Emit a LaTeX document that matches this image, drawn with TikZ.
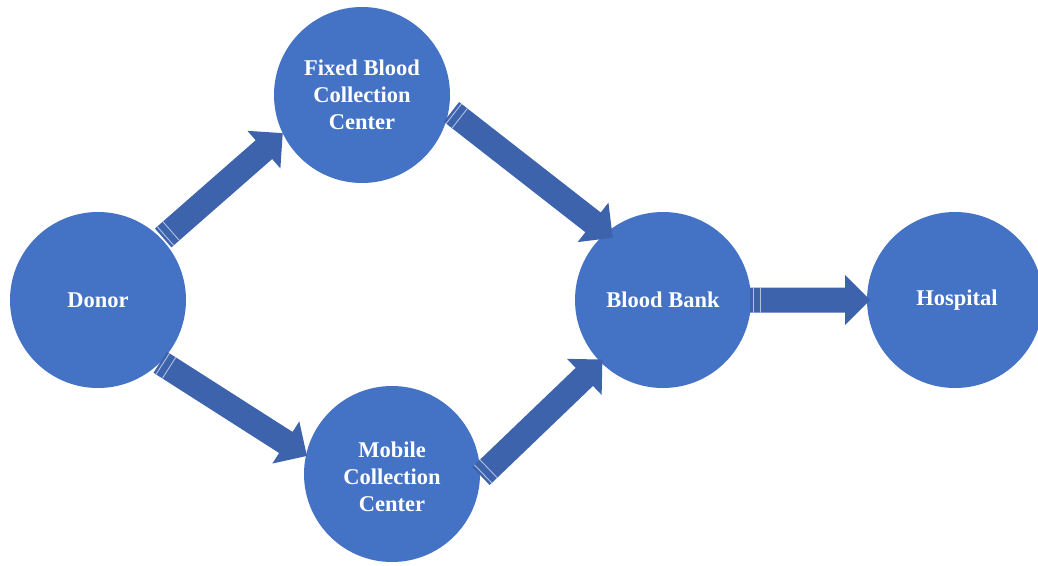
\documentclass[tikz,border=0pt]{standalone}
\usepackage{fontspec}
\setmainfont{Liberation Serif}
\usetikzlibrary{calc}
\definecolor{circfill}{HTML}{4472C4}
\definecolor{arrfill}{HTML}{3D63AD}
\tikzset{
  labeltext/.style={text=white, font=\fontsize{22.5}{27}\selectfont\bfseries, align=center, inner sep=0pt},
  station/.style={circle, fill=circfill, minimum size=176pt, inner sep=0pt, outer sep=0pt, labeltext},
  arrbody/.style={fill=arrfill},
  arrstripe/.style={draw=white!60!arrfill, line width=0.9pt}
}
\newcommand\stripedarrow[2]{%
  \path (#1) coordinate (T) (#2) coordinate (H);
  \path ($(H)!25pt!(T)$) coordinate (B);
  \fill[arrbody] ($(T)!12.5pt!90:(H)$) -- ($(B)!12.5pt!-90:(T)$) -- ($(B)!25pt!-90:(T)$)
     -- (H) -- ($(B)!25pt!90:(T)$) -- ($(B)!12.5pt!90:(T)$) -- ($(T)!12.5pt!-90:(H)$) -- cycle;
  \path ($(T)!3pt!(H)$) coordinate (S1) ($(T)!10.5pt!(H)$) coordinate (S2);
  \draw[arrstripe] ($(S1)!12.5pt!90:(H)$) -- ($(S1)!12.5pt!-90:(H)$);
  \draw[arrstripe] ($(S2)!12.5pt!90:(H)$) -- ($(S2)!12.5pt!-90:(H)$);
}
\begin{document}
\begin{tikzpicture}[x=1pt,y=1pt]
\useasboundingbox (0,0) rectangle (1038,-565);
\clip (0,0) rectangle (1038,-565);
\node[station] (donor) at (98,-300) {Donor};
\node[station] (fixed) at (362,-95) {Fixed Blood\\Collection\\Center};
\node[station] (mobile) at (392,-474) {};
\node[labeltext] (mobiletext) at (392,-477) {Mobile\\Collection\\Center};
\node[station] (bank) at (663,-300) {Blood Bank};
\node[station] (hosp) at (955,-300) {};
\node[labeltext] (hosptext) at (957,-300) {Hospital};
\stripedarrow{$(donor)+(43.6:90)$}{$(fixed)+(205.7:88)$}
\stripedarrow{$(fixed)+(-10.7:91)$}{$(bank)+(128.9:80)$}
\stripedarrow{$(donor)+(-45:88)$}{$(mobile)+(168:87)$}
\stripedarrow{$(mobile)+(-1.3:89)$}{$(bank)+(224.5:85)$}
\stripedarrow{$(bank)+(0:87)$}{$(hosp)+(180:85)$}
\end{tikzpicture}
\end{document}
